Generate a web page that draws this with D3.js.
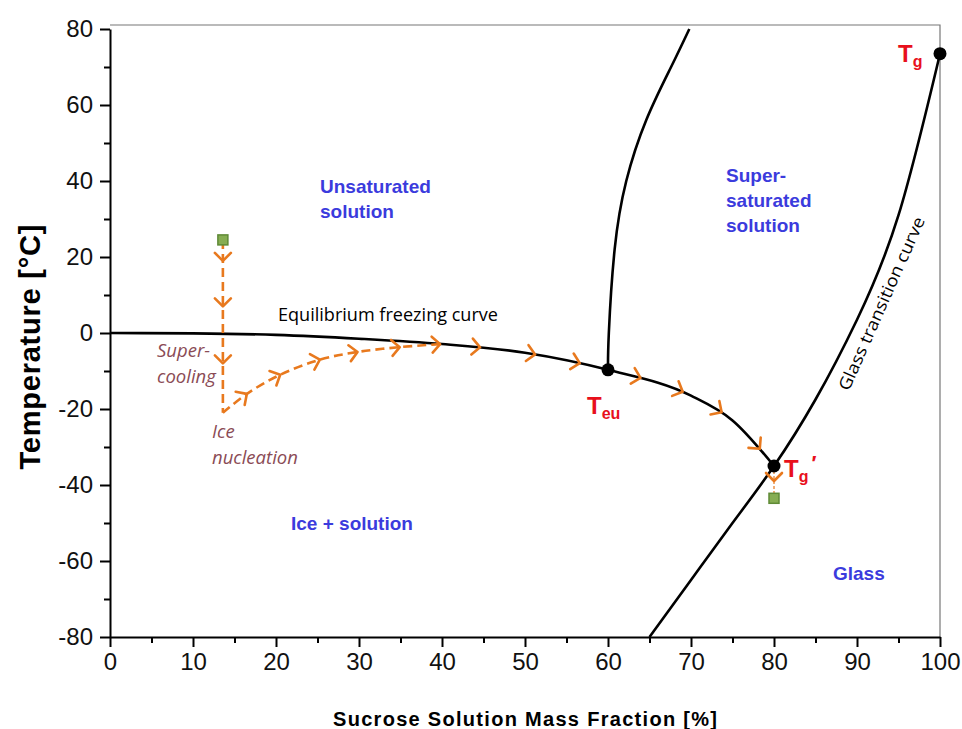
<!DOCTYPE html>
<html>
<head>
<meta charset="utf-8">
<script src="https://cdn.jsdelivr.net/npm/d3@7"></script>
<style>
  body { margin: 0; background: #fff; }
  svg { display: block; }
  .axis text { font-family: "Liberation Sans", Arial, sans-serif; font-size: 24px; fill: #111; }
  .axis path, .axis line { stroke: #000; stroke-width: 2px; }
</style>
</head>
<body>
<div id="chart"></div>
<script>
// ---- data ----
var freezeX = [0, 10, 20, 30, 40, 50, 60, 70, 75, 80];
var freezeT = [0, -0.1, -0.5, -1.5, -2.9, -5.2, -9.7, -16.5, -23, -35];

var solubX = [60, 60.1, 60.8, 62.2, 64.6, 67.6, 69.8];
var solubT = [-9.7, 0, 22, 40, 56, 70, 80];

var glassX = [65, 70, 75, 80, 85, 90, 95, 100];
var glassT = [-80, -65, -50, -35, -17.5, 3.5, 31, 73.5];

var coolX = [13.6, 13.6];
var coolT = [24.5, -21];

var nuclX = [13.6, 16.5, 20.5, 25.3, 29.8, 35, 40];
var nuclT = [-21, -16, -11, -7, -5, -3.7, -2.9];

var dropX = [80, 80];
var dropT = [-35, -43.5];

// arrow positions on each path
var coolArrowT = [19, 7, -8];
var nuclArrowX = [16.5, 20.5, 25.3, 29.8, 34.9, 39.8];
var freezeArrowX = [44.6, 51.2, 56.6, 63.9, 69, 73.7, 78.3];
var dropArrowT = [-39];

var pointNames = ["Teu", "Tg'", "Tg"];
var pointX = [60, 80, 100];
var pointT = [-9.7, -35, 73.5];

var squareX = [13.6, 80];
var squareT = [24.5, -43.5];

var xTicks = [0, 10, 20, 30, 40, 50, 60, 70, 80, 90, 100];
var yTicks = [-80, -60, -40, -20, 0, 20, 40, 60, 80];

// ---- layout ----
var W = 962, H = 729;
var margin = { top: 29, right: 22, bottom: 92, left: 110 };
var plotW = W - margin.left - margin.right,
    plotH = H - margin.top - margin.bottom;

var x = d3.scaleLinear().domain([0, 100]).range([0, plotW]);
var y = d3.scaleLinear().domain([-80, 80]).range([plotH, 0]);

var orange = "#e8791e";
var blue = "#3b3bdd";
var mauve = "#8a4b55";
var plain = function(d) { return String(d); };   // hyphen minus like the original

var svg = d3.select("#chart").append("svg")
    .attr("width", W)
    .attr("height", H);

var g = svg.append("g")
    .attr("transform", "translate(" + margin.left + "," + margin.top + ")");

// thin grey frame (top & right)
g.append("path")
    .attr("d", "M0," + (-4) + "H" + plotW + "V" + plotH)
    .attr("fill", "none")
    .attr("stroke", "#777")
    .attr("stroke-width", 1.2);

// axes: minor ticks first, then labelled major ticks
g.append("g").attr("class", "axis")
    .attr("transform", "translate(0," + plotH + ")")
    .call(d3.axisBottom(x).tickValues(d3.range(5, 100, 10)).tickSize(6).tickFormat(""))
    .select(".domain").remove();
g.append("g").attr("class", "axis")
    .attr("transform", "translate(0," + plotH + ")")
    .call(d3.axisBottom(x).tickValues(xTicks).tickSize(10).tickSizeOuter(0).tickPadding(6).tickFormat(plain));

g.append("g").attr("class", "axis")
    .call(d3.axisLeft(y).tickValues(d3.range(-70, 80, 20)).tickSize(6).tickFormat(""))
    .select(".domain").remove();
g.append("g").attr("class", "axis")
    .call(d3.axisLeft(y).tickValues(yTicks).tickSize(10).tickSizeOuter(0).tickPadding(7).tickFormat(plain));

// axis titles
svg.append("text")
    .attr("x", 525).attr("y", 726)
    .attr("text-anchor", "middle")
    .attr("font-family", "Liberation Sans, Arial, sans-serif")
    .attr("font-weight", "bold")
    .attr("font-size", 20)
    .attr("textLength", 384)
    .text("Sucrose Solution Mass Fraction [%]");

svg.append("text")
    .attr("transform", "translate(40,347) rotate(-90)")
    .attr("text-anchor", "middle")
    .attr("font-family", "Liberation Sans, Arial, sans-serif")
    .attr("font-weight", "bold")
    .attr("font-size", 29)
    .attr("textLength", 245)
    .text("Temperature [°C]");

// ---- curves ----
function pts(xs, ts) { return xs.map(function(v, i) { return [v, ts[i]]; }); }

var lineX = d3.line().x(function(d) { return x(d[0]); }).y(function(d) { return y(d[1]); })
    .curve(d3.curveMonotoneX);
var lineC = d3.line().x(function(d) { return x(d[0]); }).y(function(d) { return y(d[1]); })
    .curve(d3.curveCatmullRom);
var lineN = d3.line().x(function(d) { return x(d[0]); }).y(function(d) { return y(d[1]); })
    .curve(d3.curveNatural);

var freezePath = g.append("path")
    .attr("d", lineX(pts(freezeX, freezeT)))
    .attr("fill", "none").attr("stroke", "#000").attr("stroke-width", 2.6);

g.append("path")
    .attr("d", lineN(pts(solubX, solubT)))
    .attr("fill", "none").attr("stroke", "#000").attr("stroke-width", 2.6);

g.append("path")
    .attr("d", lineN(pts(glassX, glassT)))
    .attr("fill", "none").attr("stroke", "#000").attr("stroke-width", 2.6);

// orange process path
var coolPath = g.append("path")
    .attr("d", d3.line()(pts(coolX, coolT).map(function(d) { return [x(d[0]), y(d[1])]; })))
    .attr("fill", "none").attr("stroke", orange).attr("stroke-width", 2.6)
    .attr("stroke-dasharray", "9,5");

var nuclPath = g.append("path")
    .attr("d", lineC(pts(nuclX, nuclT)))
    .attr("fill", "none").attr("stroke", orange).attr("stroke-width", 2.6)
    .attr("stroke-dasharray", "9,5");

var dropPath = g.append("path")
    .attr("d", d3.line()(pts(dropX, dropT).map(function(d) { return [x(d[0]), y(d[1])]; })))
    .attr("fill", "none").attr("stroke", orange).attr("stroke-width", 1.2)
    .attr("stroke-dasharray", "3,2");

// chevron arrowheads placed on a path near a target pixel
function arrowsOn(pathSel, targets, useY) {
    var node = pathSel.node(), L = node.getTotalLength();
    targets.forEach(function(t) {
        var best = 0, bestD = Infinity;
        for (var s = 0; s <= L; s += 0.5) {
            var p = node.getPointAtLength(s);
            var dd = useY ? Math.abs(p.y - t) : Math.abs(p.x - t);
            if (dd < bestD) { bestD = dd; best = s; }
        }
        var p0 = node.getPointAtLength(Math.max(0, best - 1)),
            p1 = node.getPointAtLength(Math.min(L, best + 1)),
            pm = node.getPointAtLength(best);
        var ang = Math.atan2(p1.y - p0.y, p1.x - p0.x) * 180 / Math.PI;
        g.append("path")
            .attr("transform", "translate(" + pm.x + "," + pm.y + ") rotate(" + ang + ")")
            .attr("d", "M-8,-8L0,0L-8,8")
            .attr("fill", "none")
            .attr("stroke", orange)
            .attr("stroke-width", 2.6)
            .attr("stroke-linecap", "round")
            .attr("stroke-linejoin", "round");
    });
}

arrowsOn(coolPath, coolArrowT.map(y), true);
arrowsOn(nuclPath, nuclArrowX.map(x), false);
arrowsOn(freezePath, freezeArrowX.map(x), false);
arrowsOn(dropPath, dropArrowT.map(y), true);

// start / end squares
g.selectAll(".sq").data(pts(squareX, squareT)).enter().append("rect")
    .attr("x", function(d) { return x(d[0]) - 5; })
    .attr("y", function(d) { return y(d[1]) - 5; })
    .attr("width", 10).attr("height", 10)
    .attr("fill", "#86ad52").attr("stroke", "#5f8a36").attr("stroke-width", 1.5);

// special points
g.selectAll(".pt").data(pts(pointX, pointT)).enter().append("circle")
    .attr("cx", function(d) { return x(d[0]); })
    .attr("cy", function(d) { return y(d[1]); })
    .attr("r", 6.5)
    .attr("fill", "#000");

// ---- labels ----
function redT(xp, yp, sub, prime) {
    var t = svg.append("text")
        .attr("x", xp).attr("y", yp)
        .attr("font-family", "Liberation Sans, Arial, sans-serif")
        .attr("font-weight", "bold")
        .attr("font-size", 24)
        .attr("fill", "#e8101c");
    t.append("tspan").text("T");
    t.append("tspan").attr("font-size", 16).attr("dy", 5).text(sub);
    if (prime) t.append("tspan").attr("font-size", 21).attr("dy", -12).attr("dx", 3).text("′");
}
redT(587, 414, "eu", false);
redT(898, 62, "g", false);
redT(784, 477, "g", true);

function blueLabel(xp, yp, lines) {
    var t = svg.append("text")
        .attr("font-family", "Liberation Sans, Arial, sans-serif")
        .attr("font-weight", "bold")
        .attr("font-size", 19)
        .attr("fill", blue);
    lines.forEach(function(s, i) {
        t.append("tspan").attr("x", xp).attr("y", yp + i * 25).text(s);
    });
}
blueLabel(320, 193, ["Unsaturated", "solution"]);
blueLabel(726, 182, ["Super-", "saturated", "solution"]);
blueLabel(291, 530, ["Ice + solution"]);
blueLabel(833, 580, ["Glass"]);

svg.append("text")
    .attr("x", 278).attr("y", 321)
    .attr("font-family", "Open Sans, sans-serif")
    .attr("font-size", 17.5)
    .attr("textLength", 220)
    .attr("lengthAdjust", "spacingAndGlyphs")
    .attr("fill", "#000")
    .text("Equilibrium freezing curve");

function mauveLabel(xp, yp, lines) {
    var t = svg.append("text")
        .attr("font-family", "Open Sans, sans-serif")
        .attr("font-style", "italic")
        .attr("font-size", 18.5)
        .attr("fill", mauve);
    lines.forEach(function(s, i) {
        t.append("tspan").attr("x", xp).attr("y", yp + i * 26).text(s);
    });
}
mauveLabel(157, 357, ["Super-", "cooling"]);
mauveLabel(212, 438, ["Ice", "nucleation"]);

svg.append("text")
    .attr("transform", "translate(887,306) rotate(-66)")
    .attr("text-anchor", "middle")
    .attr("font-family", "Open Sans, sans-serif")
    .attr("font-size", 17)
    .attr("textLength", 188)
    .attr("lengthAdjust", "spacingAndGlyphs")
    .attr("fill", "#000")
    .text("Glass transition curve");
</script>
</body>
</html>
